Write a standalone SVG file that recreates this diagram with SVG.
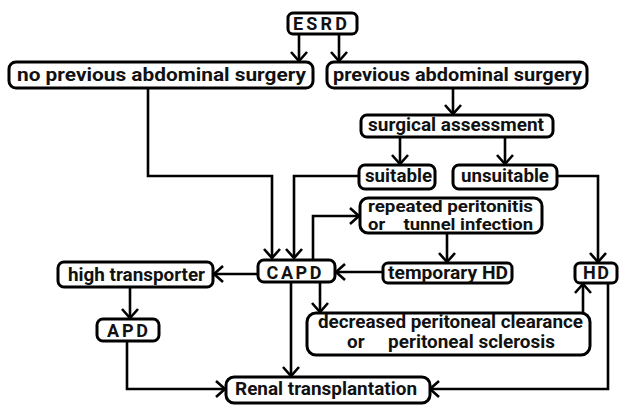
<svg xmlns="http://www.w3.org/2000/svg" width="619" height="405" viewBox="0 0 619 405">
<defs>
<marker id="ah" markerUnits="userSpaceOnUse" markerWidth="14" markerHeight="18" refX="11" refY="9" orient="auto">
<path d="M2,1 L11,9 L2,17" fill="none" stroke="#000" stroke-width="2.6" stroke-linejoin="miter"/>
</marker>
<style>
.b{fill:#fff;stroke:#000;stroke-width:3}
.t{font-family:Roboto,"Liberation Sans",sans-serif;font-weight:bold;font-size:18px;fill:#111}
.s{font-size:16px}
.c path{fill:none;stroke:#000;stroke-width:2.6;marker-end:url(#ah)}
</style>
</defs>
<rect width="619" height="405" fill="#fff"/>
<g class="c" id="connectors">
<path d="M299,34 V61"/>
<path d="M339,34 V61"/>
<path d="M148,88 V176 H272 V258"/>
<path d="M453,88 V114"/>
<path d="M400,137 V164"/>
<path d="M505,137 V164"/>
<path d="M359,176 H294 V258"/>
<path d="M557,176 H598 V262"/>
<path d="M313,260 V216 H359"/>
<path d="M447,233 V262"/>
<path d="M383,272 H336"/>
<path d="M258,274 H214"/>
<path d="M130,287 V318"/>
<path d="M127,341 V389 H225"/>
<path d="M291,282 V376"/>
<path d="M320,282 V312"/>
<path d="M583,313 V284"/>
<path d="M608,283 V389 H430"/>
</g>
<g id="esrd"><rect class="b" x="288" y="13" width="69" height="21" rx="5"/><text class="t" x="322.5" y="30" text-anchor="middle" letter-spacing="5" textLength="59">ESRD</text></g>
<g id="noprev"><rect class="b" x="9" y="62" width="304" height="26" rx="7"/><text class="t" x="17" y="81" textLength="289" lengthAdjust="spacingAndGlyphs">no previous abdominal surgery</text></g>
<g id="prev"><rect class="b" x="327" y="62" width="260" height="26" rx="7"/><text class="t" x="333" y="81" textLength="249" lengthAdjust="spacingAndGlyphs">previous abdominal surgery</text></g>
<g id="surgical"><rect class="b" x="361" y="115" width="192" height="22" rx="6"/><text class="t" x="368" y="131" textLength="176" lengthAdjust="spacingAndGlyphs">surgical assessment</text></g>
<g id="suitable"><rect class="b" x="359" y="165" width="76" height="24" rx="6"/><text class="t" x="365" y="182" textLength="67" lengthAdjust="spacingAndGlyphs">suitable</text></g>
<g id="unsuitable"><rect class="b" x="453" y="165" width="104" height="24" rx="6"/><text class="t" x="461" y="182" textLength="88" lengthAdjust="spacingAndGlyphs">unsuitable</text></g>
<g id="repeated"><rect class="b" x="360" y="198" width="182" height="35" rx="8"/><text class="t s" x="368" y="212" textLength="165" lengthAdjust="spacingAndGlyphs">repeated peritonitis</text><text class="t s" x="368" y="230" textLength="165" lengthAdjust="spacingAndGlyphs" xml:space="preserve">or    tunnel infection</text></g>
<g id="capd"><rect class="b" x="258" y="260" width="77" height="22" rx="6"/><text class="t" x="296.5" y="279" text-anchor="middle" letter-spacing="5" textLength="60">CAPD</text></g>
<g id="temphd"><rect class="b" x="383" y="263" width="129" height="20" rx="5"/><text class="t" x="388" y="279" textLength="120" lengthAdjust="spacingAndGlyphs">temporary HD</text></g>
<g id="hd"><rect class="b" x="575" y="263" width="42" height="20" rx="5"/><text class="t" x="597.5" y="279" text-anchor="middle" letter-spacing="3" textLength="29">HD</text></g>
<g id="hightrans"><rect class="b" x="58" y="262" width="155" height="25" rx="6"/><text class="t" x="68" y="281" textLength="137" lengthAdjust="spacingAndGlyphs">high transporter</text></g>
<g id="apd"><rect class="b" x="97" y="319" width="62" height="22" rx="6"/><text class="t" x="107" y="337" textLength="41" lengthAdjust="spacing">APD</text></g>
<g id="decreased"><rect class="b" x="307" y="313" width="283" height="42" rx="9"/><text class="t" x="318" y="328" textLength="265" lengthAdjust="spacingAndGlyphs">decreased peritoneal clearance</text><text class="t" x="347" y="348" textLength="208" lengthAdjust="spacingAndGlyphs" xml:space="preserve">or     peritoneal sclerosis</text></g>
<g id="renal"><rect class="b" x="226" y="377" width="204" height="26" rx="8"/><text class="t" x="235" y="395" textLength="182" lengthAdjust="spacingAndGlyphs">Renal transplantation</text></g>
</svg>
